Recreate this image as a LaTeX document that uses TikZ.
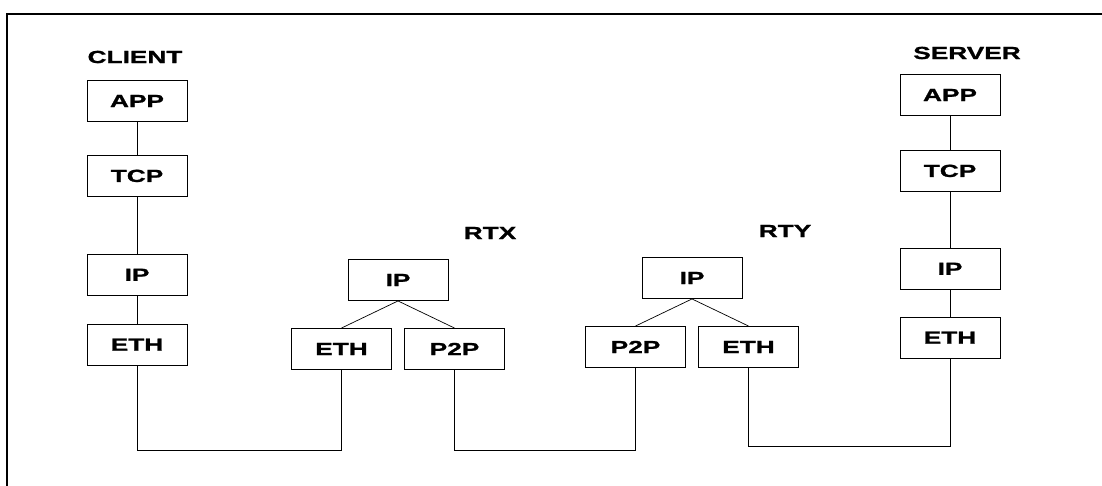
\documentclass[tikz,border=0pt]{standalone}
\usepackage{fontspec}
\setmainfont{Liberation Sans}[FakeStretch=1.5, BoldFeatures={FakeBold=1.2}]
\usetikzlibrary{positioning}

\begin{document}
\begin{tikzpicture}[x=1pt, y=-1pt,
                    level 1/.style={sibling distance=113pt, level distance=69pt},
                    layer/.style={rectangle, draw, line width=0.9pt, minimum width=100pt, minimum height=41pt, font=\fontsize{17.5}{20}\selectfont\bfseries},
                    title/.style={font=\fontsize{17.5}{20}\selectfont\bfseries},
                    link/.style={line width=0.7pt},
                    edge from parent/.style={draw, line width=0.7pt},
                    edge from parent path={(\tikzparentnode.south) -- (\tikzchildnode.north)}
                ]
                \useasboundingbox (0,0) rectangle (1102,486);
                % cadre de la page
                \draw[line width=1.6pt] (7,486) -- (7,14) -- (1102,14);

                % client
                \node[title] (client) at (135,57) {CLIENT};
                \node[layer] (capp) at (137,101) {APP};
                \node[layer, below=33pt of capp] (ctcp) {TCP};
                \node[layer, below=57pt of ctcp] (cip) {IP};
                \node[layer, below=28pt of cip] (ceth) {ETH};

                % routeurs
                \node[title] (rtx) at (490,233) {RTX};
                \node[layer] (xip) at (398,280) {IP}
                    child {node[layer] (xeth) {ETH}}
                    child {node[layer] (xp2p) {P2P}};
                \node[title] (rty) at (785,231) {RTY};
                \node[layer] (yip) at (692,278) {IP}
                    child {node[layer] (yp2p) {P2P}}
                    child {node[layer] (yeth) {ETH}};

                % serveur
                \node[title] (server) at (967,53) {SERVER};
                \node[layer] (sapp) at (950,95) {APP};
                \node[layer, below=34pt of sapp] (stcp) {TCP};
                \node[layer, below=56pt of stcp] (sip) {IP};
                \node[layer, below=27pt of sip] (seth) {ETH};

                \draw[link] (capp.south) -- (ctcp.north);
                \draw[link] (ctcp.south) -- (cip.north);
                \draw[link] (cip.south) -- (ceth.north);
                \draw[link] (sapp.south) -- (stcp.north);
                \draw[link] (stcp.south) -- (sip.north);
                \draw[link] (sip.south) -- (seth.north);

                % liaisons
                \coordinate (bus) at (0,450);
                \coordinate (bus2) at (0,446);
                \draw[link] (ceth.south) -- (ceth.south |- bus) -| (xeth.south);
                \draw[link] (xp2p.south) -- (xp2p.south |- bus) -| (yp2p.south);
                \draw[link] (yeth.south) -- (yeth.south |- bus2) -| (seth.south);
                \end{tikzpicture}
\end{document}
